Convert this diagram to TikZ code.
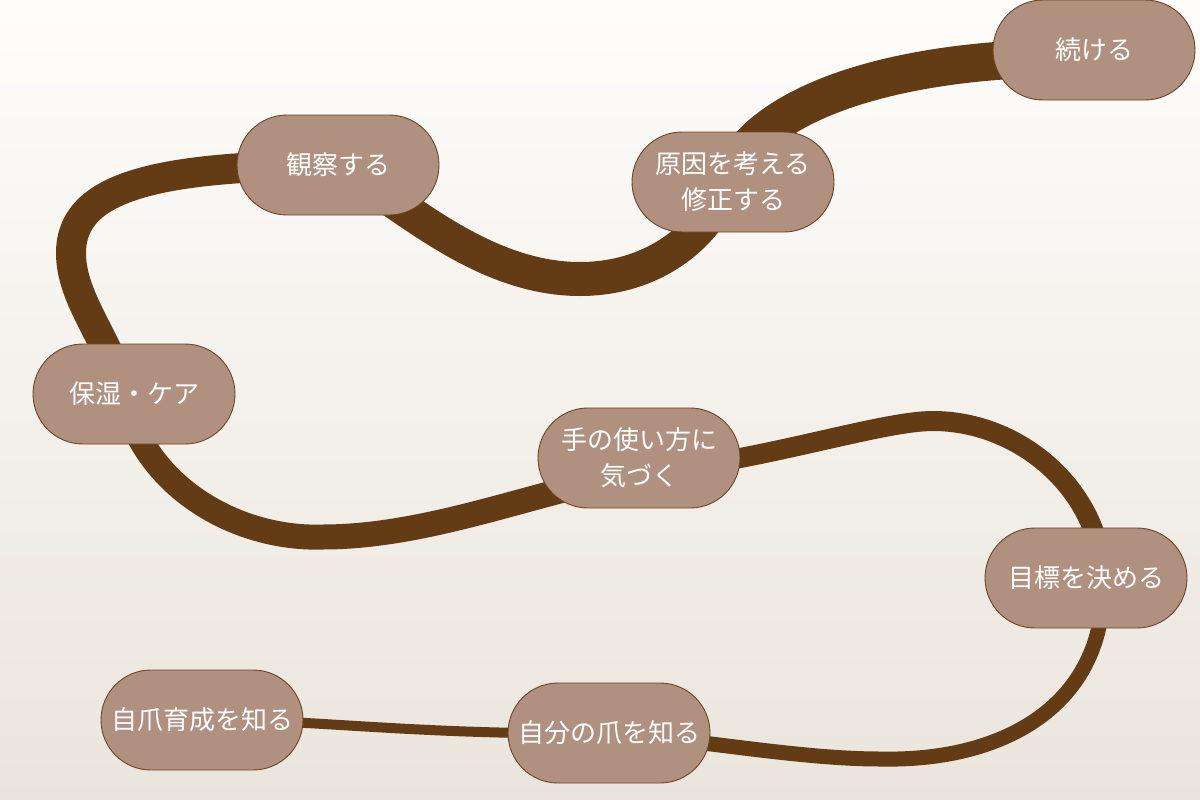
\documentclass[tikz,border=0pt]{standalone}
\usepackage{fontspec}
\newfontfamily\jpfont{Noto Sans CJK JP}
\definecolor{bgtop}{RGB}{254,253,251}
\definecolor{bgbot}{RGB}{234,229,220}
\definecolor{road}{RGB}{99,60,21}
\definecolor{pillfill}{RGB}{176,145,128}
\definecolor{pillline}{RGB}{110,68,36}
\pgfdeclarelayer{bglayer}
\pgfdeclarelayer{roadlayer}
\pgfsetlayers{bglayer,roadlayer,main}
\tikzset{
  pill/.style={draw=pillline, line width=0.9pt, fill=pillfill, rounded corners=50pt,
    minimum width=202pt, minimum height=100pt, inner sep=0pt, align=center,
    text=white, font=\jpfont\fontsize{26pt}{36pt}\selectfont},
  roadline/.style={draw=road, line join=round}
}
\begin{document}
\begin{tikzpicture}[x=1pt,y=-1pt]
\useasboundingbox (0,0) rectangle (1200,800);
\begin{pgfonlayer}{bglayer}
\shade[top color=bgtop, bottom color=bgbot] (0,0) rectangle (1200,800);
\end{pgfonlayer}

\node[pill] (n1) at (202,720) {自爪育成を知る};
\node[pill] (n2) at (609,733) {自分の爪を知る};
\node[pill] (n3) at (1086,578) {目標を決める};
\node[pill] (n4) at (639,458) {手の使い方に\\気づく};
\node[pill] (n5) at (134,394) {保湿・ケア};
\node[pill] (n6) at (338,165) {観察する};
\node[pill] (n7) at (733,182) {原因を考える\\修正する};
\node[pill] (n8) at (1094,50) {続ける};

\coordinate (n3p) at ([xshift=17pt]n3.center);
\coordinate (n4p) at ([yshift=-15pt]n4.center);
\coordinate (n5p) at ([xshift=-11pt]n5.center);
\coordinate (n7p) at ([xshift=-5pt]n7.center);
\coordinate (n8p) at ([yshift=-8pt]n8.center);

\begin{pgfonlayer}{roadlayer}
\draw[roadline, line width=10pt] (n1.center)
  .. controls (300,718) and (420,736) .. (n2.center);
\draw[roadline, line width=15pt] (n2.center)
  .. controls (700,740) and (800,759) .. (880,759)
  .. controls (1010,762) and (1108,700) .. (n3p);
\draw[roadline, line width=20pt] (n3p)
  .. controls (1100,490) and (1020,421) .. (933,421)
  .. controls (880,421) and (760,462) .. (n4p);
\draw[roadline, line width=25pt] (n4p)
  .. controls (540,490) and (430,537) .. (323,537)
  .. controls (240,540) and (145,490) .. (n5p);
\draw[roadline, line width=30pt] (n5p)
  .. controls (110,340) and (71,300) .. (71,253)
  .. controls (71,185) and (160,166) .. (n6.center);
\draw[roadline, line width=34pt] (n6.center)
  .. controls (400,200) and (480,279) .. (580,279)
  .. controls (650,279) and (705,240) .. (n7p);
\draw[roadline, line width=38pt] (n7p)
  .. controls (750,110) and (880,55) .. (n8p);
\end{pgfonlayer}
\end{tikzpicture}
\end{document}
